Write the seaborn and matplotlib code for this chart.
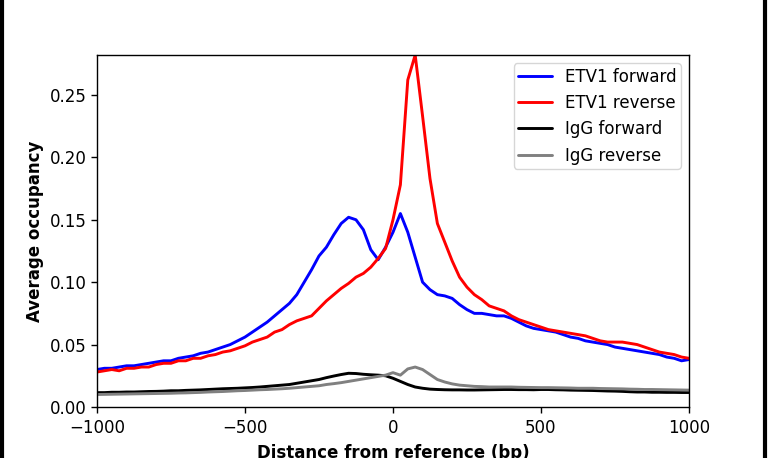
import numpy as np
import pandas as pd
import matplotlib
matplotlib.use('Agg')
import matplotlib.pyplot as plt
from matplotlib.lines import Line2D
import seaborn as sns

# =========================
#  DATA
# =========================

distance = np.arange(-1000, 1001, 25)

etv1_forward = [
    0.030, 0.031, 0.031, 0.032, 0.033, 0.033, 0.034, 0.035, 0.036, 0.037,
    0.037, 0.039, 0.040, 0.041, 0.043, 0.044, 0.046, 0.048, 0.050, 0.053,
    0.056, 0.060, 0.064, 0.068, 0.073, 0.078, 0.083, 0.090, 0.100, 0.110,
    0.121, 0.128, 0.138, 0.147, 0.152, 0.150, 0.142, 0.126, 0.118, 0.128,
    0.140, 0.155, 0.140, 0.120, 0.100, 0.094, 0.090, 0.089, 0.087, 0.082,
    0.078, 0.075, 0.075, 0.074, 0.073, 0.073, 0.071, 0.068, 0.065, 0.063,
    0.062, 0.061, 0.060, 0.058, 0.056, 0.055, 0.053, 0.052, 0.051, 0.050,
    0.048, 0.047, 0.046, 0.045, 0.044, 0.043, 0.042, 0.040, 0.039, 0.037,
    0.038,
]

etv1_reverse = [
    0.028, 0.029, 0.030, 0.029, 0.031, 0.031, 0.032, 0.032, 0.034, 0.035,
    0.035, 0.037, 0.037, 0.039, 0.039, 0.041, 0.042, 0.044, 0.045, 0.047,
    0.049, 0.052, 0.054, 0.056, 0.060, 0.062, 0.066, 0.069, 0.071, 0.073,
    0.079, 0.085, 0.090, 0.095, 0.099, 0.104, 0.107, 0.112, 0.119, 0.127,
    0.150, 0.178, 0.262, 0.282, 0.233, 0.183, 0.147, 0.132, 0.117, 0.104,
    0.096, 0.090, 0.086, 0.081, 0.079, 0.077, 0.073, 0.070, 0.068, 0.066,
    0.064, 0.062, 0.061, 0.060, 0.059, 0.058, 0.057, 0.055, 0.053, 0.052,
    0.052, 0.052, 0.051, 0.050, 0.048, 0.046, 0.044, 0.043, 0.042, 0.040,
    0.039,
]

igg_forward = [
    0.0115, 0.0115, 0.0118, 0.0118, 0.0120, 0.0120, 0.0122, 0.0124, 0.0125, 0.0127,
    0.0130, 0.0130, 0.0133, 0.0135, 0.0137, 0.0140, 0.0143, 0.0146, 0.0148, 0.0150,
    0.0153, 0.0156, 0.0160, 0.0165, 0.0170, 0.0175, 0.0180, 0.0190, 0.0200, 0.0210,
    0.0220, 0.0235, 0.0248, 0.0260, 0.0270, 0.0268, 0.0262, 0.0258, 0.0255, 0.0250,
    0.0230, 0.0205, 0.0180, 0.0160, 0.0150, 0.0143, 0.0140, 0.0138, 0.0137, 0.0137,
    0.0136, 0.0136, 0.0137, 0.0138, 0.0139, 0.0140, 0.0140, 0.0139, 0.0139, 0.0138,
    0.0140, 0.0140, 0.0138, 0.0137, 0.0135, 0.0134, 0.0133, 0.0132, 0.0130, 0.0128,
    0.0127, 0.0125, 0.0122, 0.0120, 0.0120, 0.0118, 0.0118, 0.0117, 0.0117, 0.0116,
    0.0116,
]

igg_reverse = [
    0.0100, 0.0101, 0.0102, 0.0103, 0.0104, 0.0105, 0.0106, 0.0107, 0.0108, 0.0109,
    0.0110, 0.0112, 0.0113, 0.0115, 0.0117, 0.0120, 0.0122, 0.0124, 0.0127, 0.0130,
    0.0132, 0.0135, 0.0138, 0.0140, 0.0143, 0.0146, 0.0150, 0.0155, 0.0160, 0.0165,
    0.0170, 0.0180, 0.0187, 0.0195, 0.0205, 0.0215, 0.0225, 0.0235, 0.0245, 0.0255,
    0.0275, 0.0255, 0.0305, 0.0320, 0.0300, 0.0260, 0.0220, 0.0200, 0.0185, 0.0175,
    0.0170, 0.0165, 0.0163, 0.0160, 0.0160, 0.0160, 0.0160, 0.0158, 0.0157, 0.0156,
    0.0155, 0.0155, 0.0154, 0.0153, 0.0152, 0.0150, 0.0150, 0.0150, 0.0148, 0.0147,
    0.0146, 0.0145, 0.0143, 0.0142, 0.0140, 0.0140, 0.0139, 0.0138, 0.0137, 0.0136,
    0.0135,
]

series_names = ['ETV1 forward', 'ETV1 reverse', 'IgG forward', 'IgG reverse']
series_colors = ['blue', 'red', 'black', 'gray']

# =========================
#  BUILD LONG TABLE
# =========================

frames = []
for name, values in zip(series_names,
                        [etv1_forward, etv1_reverse, igg_forward, igg_reverse]):
    frames.append(pd.DataFrame({'distance': distance,
                                'occupancy': values,
                                'series': name}))
data = pd.concat(frames, ignore_index=True)

# =========================
#  PLOT
# =========================

sns.set_theme(style='ticks', rc={
    'axes.edgecolor': 'black',
    'xtick.color': 'black',
    'ytick.color': 'black',
    'text.color': 'black',
    'axes.labelcolor': 'black',
    'axes.linewidth': 1.0,
})
plt.rcParams['font.family'] = ['DejaVu Sans']

fig = plt.figure(figsize=(7.68, 4.58), dpi=100)
ax = fig.add_axes([0.1263, 0.1114, 0.7708, 0.7685])

sns.lineplot(data=data, x='distance', y='occupancy', hue='series',
             hue_order=series_names, palette=series_colors,
             linewidth=2.1, ax=ax)

ax.set_xlim(-1000, 1000)
ax.set_ylim(0, data['occupancy'].max())
ax.set_xticks([-1000, -500, 0, 500, 1000])
ax.set_yticks([0.00, 0.05, 0.10, 0.15, 0.20, 0.25])
ax.yaxis.set_major_formatter(matplotlib.ticker.FormatStrFormatter('%.2f'))
ax.tick_params(labelsize=12, length=4, width=1)
ax.tick_params(axis='x', pad=4.5)

ax.set_xlabel('Distance from reference (bp)', fontsize=12, fontweight='bold',
              labelpad=5)
ax.set_ylabel('Average occupancy', fontsize=12, fontweight='bold')

ax.legend(loc='upper right', fontsize=12, frameon=True, fancybox=True,
          framealpha=0.8, edgecolor='0.8', borderaxespad=0.5, borderpad=0.25)

# vertical frame lines at the picture edges
fig.add_artist(Line2D([0.002, 0.002], [0, 1], color='black', linewidth=3,
                      transform=fig.transFigure))
fig.add_artist(Line2D([0.996, 0.996], [0, 1], color='black', linewidth=3,
                      transform=fig.transFigure))

fig.savefig('out.png', dpi=100)
plt.close(fig)
